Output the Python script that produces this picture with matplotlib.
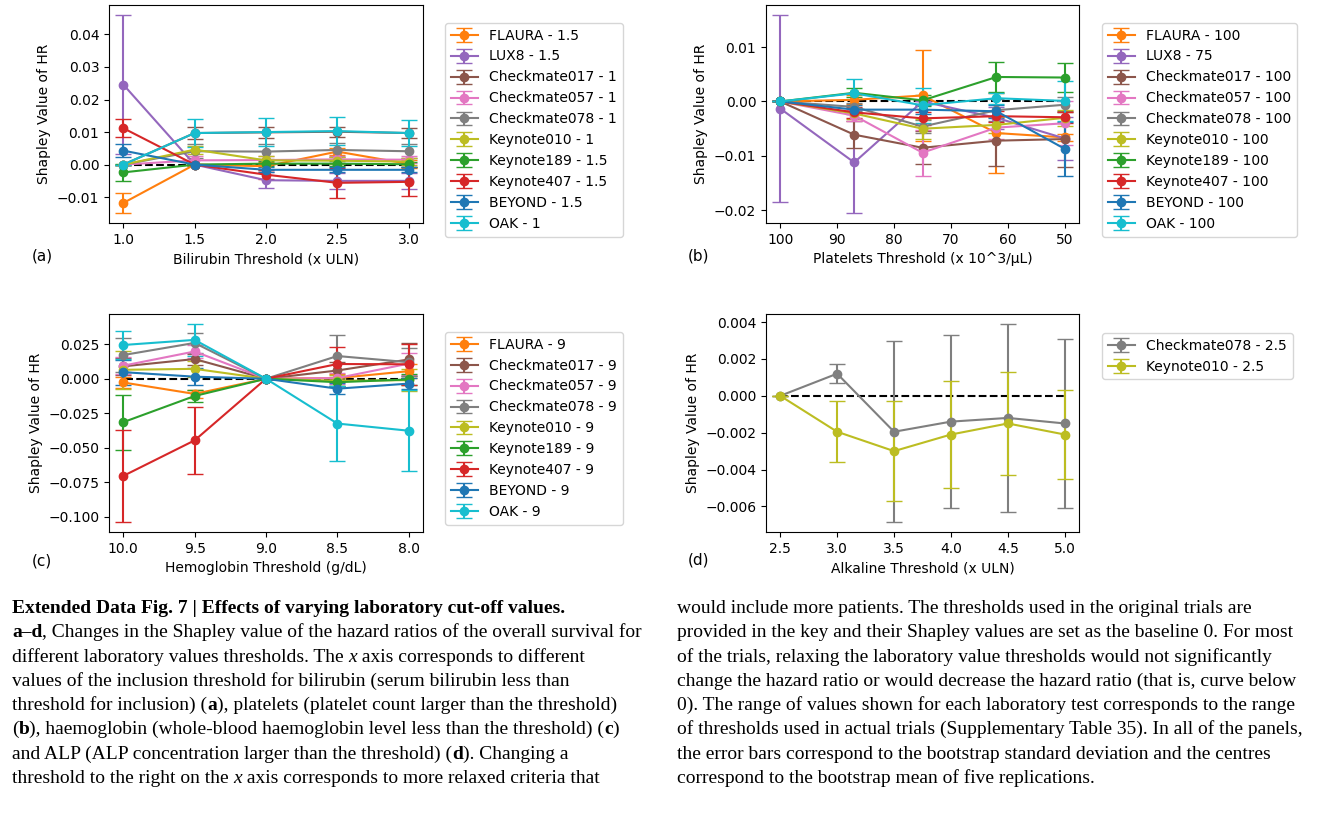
import matplotlib
matplotlib.use("Agg")
import matplotlib.pyplot as plt

# ---- data ----
trial_colors = {
    "FLAURA": "tab:orange", "LUX8": "tab:purple", "Checkmate017": "tab:brown",
    "Checkmate057": "tab:pink", "Checkmate078": "tab:gray", "Keynote010": "tab:olive",
    "Keynote189": "tab:green", "Keynote407": "tab:red", "BEYOND": "tab:blue", "OAK": "tab:cyan",
}

# (a) bilirubin
bili_x = [1.0, 1.5, 2.0, 2.5, 3.0]
bili_trials = ["FLAURA", "LUX8", "Checkmate017", "Checkmate057", "Checkmate078",
               "Keynote010", "Keynote189", "Keynote407", "BEYOND", "OAK"]
bili_base = ["1.5", "1.5", "1", "1", "1", "1", "1.5", "1.5", "1.5", "1"]
bili_mean = [
    [-0.0118, 0, -0.0005, 0.0040, 0.0002],
    [0.0246, 0, -0.0048, -0.0050, -0.0050],
    [0, 0.0097, 0.0099, 0.0101, 0.0097],
    [0, 0.0013, 0.0014, 0.0016, 0.0015],
    [0, 0.0041, 0.0040, 0.0045, 0.0041],
    [0, 0.0046, 0.0013, 0.0012, 0.0009],
    [-0.0024, 0, 0.0003, 0.0003, 0.0001],
    [0.0112, 0, -0.0031, -0.0056, -0.0053],
    [0.0043, 0, -0.0016, -0.0016, -0.0016],
    [0, 0.0097, 0.0100, 0.0103, 0.0097],
]
bili_err = [
    [0.0031, 0, 0.0012, 0.0012, 0.0012],
    [0.0214, 0, 0.0025, 0.0025, 0.0025],
    [0, 0.0018, 0.0018, 0.0016, 0.0016],
    [0, 0.0012, 0.0012, 0.0010, 0.0010],
    [0, 0.0022, 0.0024, 0.0022, 0.0022],
    [0, 0.0012, 0.0012, 0.0010, 0.0010],
    [0.0026, 0, 0.0008, 0.0008, 0.0008],
    [0.0027, 0, 0.0013, 0.0046, 0.0045],
    [0.0020, 0, 0.0008, 0.0008, 0.0008],
    [0, 0.0042, 0.0042, 0.0042, 0.0041],
]

# (b) platelets
plt_x = [100, 87, 75, 62, 50]
plt_trials = bili_trials
plt_base = ["100", "75", "100", "100", "100", "100", "100", "100", "100", "100"]
plt_mean = [
    [0, 0.0003, 0.0011, -0.0058, -0.0066],
    [-0.0013, -0.0112, 0, -0.0030, -0.0068],
    [0, -0.0061, -0.0085, -0.0072, -0.0069],
    [0, -0.0026, -0.0094, -0.0048, -0.0040],
    [0, -0.0010, -0.0046, -0.0016, -0.0006],
    [0, -0.0022, -0.0050, -0.0043, -0.0030],
    [0, 0.0016, 0.0002, 0.0045, 0.0044],
    [0, -0.0020, -0.0031, -0.0027, -0.0029],
    [0, -0.0015, -0.0015, -0.0018, -0.0087],
    [0, 0.0015, -0.0007, 0.0006, 0.0001],
]
plt_err = [
    [0, 0.0008, 0.0083, 0.0074, 0.0006],
    [0.0172, 0.0093, 0, 0.0020, 0.0040],
    [0, 0.0025, 0.0030, 0.0046, 0.0052],
    [0, 0.0010, 0.0042, 0.0020, 0.0040],
    [0, 0.0008, 0.0012, 0.0020, 0.0014],
    [0, 0.0010, 0.0018, 0.0014, 0.0015],
    [0, 0.0008, 0.0010, 0.0028, 0.0027],
    [0, 0.0010, 0.0012, 0.0010, 0.0010],
    [0, 0.0008, 0.0008, 0.0012, 0.0049],
    [0, 0.0027, 0.0032, 0.0010, 0.0036],
]

# (c) hemoglobin
hb_x = [10.0, 9.5, 9.0, 8.5, 8.0]
hb_trials = ["FLAURA", "Checkmate017", "Checkmate057", "Checkmate078", "Keynote010",
             "Keynote189", "Keynote407", "BEYOND", "OAK"]
hb_base = ["9"] * 9
hb_mean = [
    [-0.0027, -0.0110, 0, 0.0005, 0.0055],
    [0.0090, 0.0143, 0, 0.0060, 0.0140],
    [0.0095, 0.0198, 0, 0.0005, 0.0110],
    [0.0172, 0.0260, 0, 0.0165, 0.0120],
    [0.0065, 0.0072, 0, -0.0015, -0.0010],
    [-0.0315, -0.0125, 0, -0.0025, -0.0005],
    [-0.0705, -0.0447, 0, 0.0107, 0.0105],
    [0.0048, 0.0015, 0, -0.0072, -0.0035],
    [0.0245, 0.0282, 0, -0.0325, -0.0377],
]
hb_err = [
    [0.0040, 0.0030, 0, 0.0030, 0.0050],
    [0.0060, 0.0040, 0, 0.0060, 0.0120],
    [0.0060, 0.0050, 0, 0.0040, 0.0080],
    [0.0125, 0.0075, 0, 0.0150, 0.0100],
    [0.0140, 0.0060, 0, 0.0040, 0.0080],
    [0.0200, 0.0040, 0, 0.0030, 0.0040],
    [0.0335, 0.0245, 0, 0.0120, 0.0150],
    [0.0090, 0.0060, 0, 0.0040, 0.0040],
    [0.0100, 0.0116, 0, 0.0272, 0.0295],
]

# (d) alkaline phosphatase
alp_x = [2.5, 3.0, 3.5, 4.0, 4.5, 5.0]
alp_trials = ["Checkmate078", "Keynote010"]
alp_base = ["2.5", "2.5"]
alp_mean = [
    [0, 0.0012, -0.00195, -0.0014, -0.0012, -0.0015],
    [0, -0.00195, -0.0030, -0.0021, -0.0015, -0.0021],
]
alp_err = [
    [0, 0.0005, 0.0049, 0.0047, 0.0051, 0.0046],
    [0, 0.00165, 0.0027, 0.0029, 0.0028, 0.0024],
]

W, H = 1338, 833


def fig_rect(left, top, right, bottom):
    return [left / W, 1 - bottom / H, (right - left) / W, (bottom - top) / H]


def draw_panel(fig, rect, x, trials, base, mean, err, xlabel, tag, tag_xy, leg_xy, invert=False):
    ax = fig.add_axes(rect)
    ax.plot([min(x), max(x)], [0, 0], "k--", lw=1.5)
    for name, b, m, e in zip(trials, base, mean, err):
        ax.errorbar(x, m, yerr=e, marker="o", capsize=6, color=trial_colors[name],
                    label=f"{name} - {b}")
    if invert:
        ax.invert_xaxis()
    ax.set_xlabel(xlabel)
    ax.set_ylabel("Shapley Value of HR")
    fig.text(tag_xy[0] / W, 1 - tag_xy[1] / H, tag, fontsize=11, va="center")
    ax.legend(loc="upper left", bbox_to_anchor=(leg_xy[0] / W, 1 - leg_xy[1] / H),
              bbox_transform=fig.transFigure, borderaxespad=0)
    return ax


fig = plt.figure(figsize=(13.38, 8.33), dpi=100)

draw_panel(fig, fig_rect(109, 5, 423, 223), bili_x, bili_trials, bili_base, bili_mean, bili_err,
           "Bilirubin Threshold (x ULN)", "(a)", (32, 256), (445, 23))
draw_panel(fig, fig_rect(766, 5, 1079, 223), plt_x, plt_trials, plt_base, plt_mean, plt_err,
           "Platelets Threshold (x 10^3/\u03bcL)", "(b)", (688, 256), (1102, 23), invert=True)
draw_panel(fig, fig_rect(109, 314, 423, 532), hb_x, hb_trials, hb_base, hb_mean, hb_err,
           "Hemoglobin Threshold (g/dL)", "(c)", (32, 561), (445, 332), invert=True)
draw_panel(fig, fig_rect(766, 314, 1079, 532), alp_x, alp_trials, alp_base, alp_mean, alp_err,
           "Alkaline Threshold (x ULN)", "(d)", (688, 560), (1102, 333))

# ---- caption ----
cap_font = "Liberation Serif"
cap_size = 14

left_lines = [
    [("Extended Data Fig. 7 | Effects of varying laboratory cut-off values.", "b")],
    [("a\u2013d", "b"), (", Changes in the Shapley value of the hazard ratios of the overall survival for", "n")],
    [("different laboratory values thresholds. The ", "n"), ("x", "i"), (" axis corresponds to different", "n")],
    [("values of the inclusion threshold for bilirubin (serum bilirubin less than", "n")],
    [("threshold for inclusion) (", "n"), ("a", "b"), ("), platelets (platelet count larger than the threshold)", "n")],
    [("(", "n"), ("b", "b"), ("), haemoglobin (whole-blood haemoglobin level less than the threshold) (", "n"),
     ("c", "b"), (")", "n")],
    [("and ALP (ALP concentration larger than the threshold) (", "n"), ("d", "b"), ("). Changing a", "n")],
    [("threshold to the right on the ", "n"), ("x", "i"), (" axis corresponds to more relaxed criteria that", "n")],
]
right_lines = [
    [("would include more patients. The thresholds used in the original trials are", "n")],
    [("provided in the key and their Shapley values are set as the baseline 0. For most", "n")],
    [("of the trials, relaxing the laboratory value thresholds would not significantly", "n")],
    [("change the hazard ratio or would decrease the hazard ratio (that is, curve below", "n")],
    [("0). The range of values shown for each laboratory test corresponds to the range", "n")],
    [("of thresholds used in actual trials (Supplementary Table 35). In all of the panels,", "n")],
    [("the error bars correspond to the bootstrap standard deviation and the centres", "n")],
    [("correspond to the bootstrap mean of five replications.", "n")],
]


def seg_style(kind):
    return dict(family=cap_font, fontsize=cap_size,
                fontweight="bold" if kind == "b" else "normal",
                fontstyle="italic" if kind == "i" else "normal")


def draw_chain(x0, y0, segs):
    # first piece placed in figure pixels, the rest chained onto the previous piece
    prev = None
    for s, kind in segs:
        if prev is None:
            prev = fig.text(x0 / W, 1 - y0 / H, s, va="bottom", ha="left", **seg_style(kind))
        else:
            prev = fig.add_artist(plt.Annotation(s, xy=(1, 0), xycoords=prev, va="bottom",
                                                 ha="left", **seg_style(kind)))


for i, segs in enumerate(left_lines):
    draw_chain(12, 617 + i * 24.3, segs)
for i, segs in enumerate(right_lines):
    draw_chain(677, 617 + i * 24.3, segs)

fig.savefig("out.png", dpi=100)
